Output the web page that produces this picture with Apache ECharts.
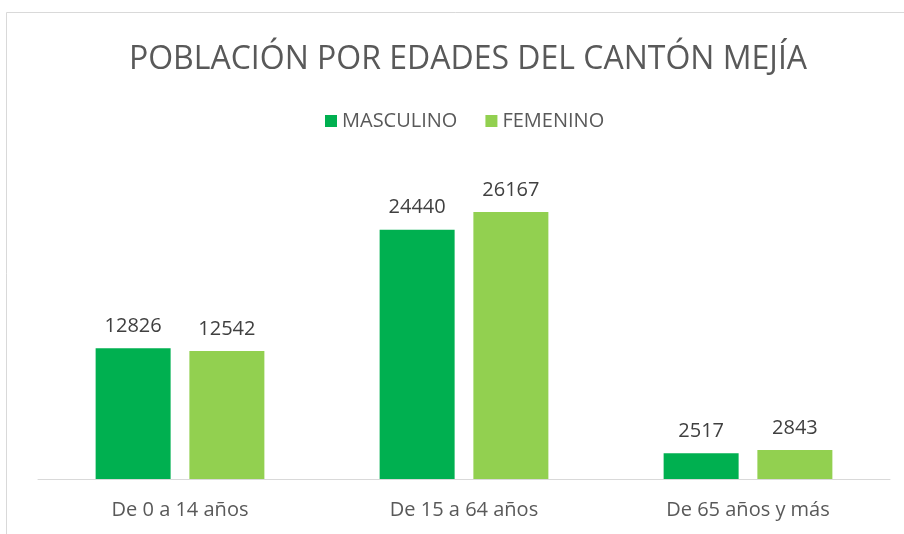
<!DOCTYPE html>
<html>
<head>
<meta charset="utf-8">
<script src="https://cdn.jsdelivr.net/npm/echarts@6/dist/echarts.min.js"></script>
<style>
html,body{margin:0;padding:0;background:#fff;}
#chart{width:904px;height:534px;}
</style>
</head>
<body>
<div id="chart"></div>
<script>
var categories = ["De 0 a 14 años", "De 15 a 64 años", "De 65 años y más"];
var legendNames = ["MASCULINO", "FEMENINO"];
var masculino = [12826, 24440, 2517];
var femenino = [12542, 26167, 2843];

var myCharts = echarts.init(document.getElementById("chart"));
var fontFam = "'Open Sans', 'Noto Sans', sans-serif";

var option = {
	backgroundColor: "#ffffff",
	graphic: [{
		type: "rect",
		shape: { x: 6.5, y: 12.5, width: 950, height: 600 },
		style: { fill: "none", stroke: "#d9d9d9", lineWidth: 1 },
		silent: true
	}],
	title: {
		text: "POBLACIÓN POR EDADES DEL CANTÓN MEJÍA",
		left: 463,
		textAlign: "center",
		top: 39,
		textStyle: { fontFamily: fontFam, fontSize: 32, fontWeight: "normal", color: "#595959" }
	},
	legend: {
		data: legendNames,
		left: 320,
		top: 106,
		itemWidth: 12,
		itemHeight: 12,
		itemGap: 28,
		icon: "rect",
		textStyle: { fontFamily: fontFam, fontSize: 20, color: "#595959" }
	},
	grid: { left: 38, right: 14, top: 173, bottom: 55, containLabel: false },
	xAxis: {
		type: "category",
		data: categories,
		axisLine: { lineStyle: { color: "#d9d9d9", width: 1 } },
		axisTick: { show: false },
		axisLabel: { fontFamily: fontFam, fontSize: 20, color: "#595959", margin: 21 }
	},
	yAxis: {
		type: "value",
		min: 0,
		max: 30000,
		show: false,
		splitLine: { show: false }
	},
	series: [{
		name: legendNames[0],
		type: "bar",
		data: masculino,
		barWidth: 75,
		barGap: "25%",
		itemStyle: { color: "#00b050" },
		label: { show: true, position: "top", distance: 12, fontFamily: fontFam, fontSize: 20, color: "#404040" }
	}, {
		name: legendNames[1],
		type: "bar",
		data: femenino,
		barWidth: 75,
		barGap: "25%",
		itemStyle: { color: "#92d050" },
		label: { show: true, position: "top", distance: 12, fontFamily: fontFam, fontSize: 20, color: "#404040" }
	}]
};
myCharts.setOption(option);
</script>
</body>
</html>
